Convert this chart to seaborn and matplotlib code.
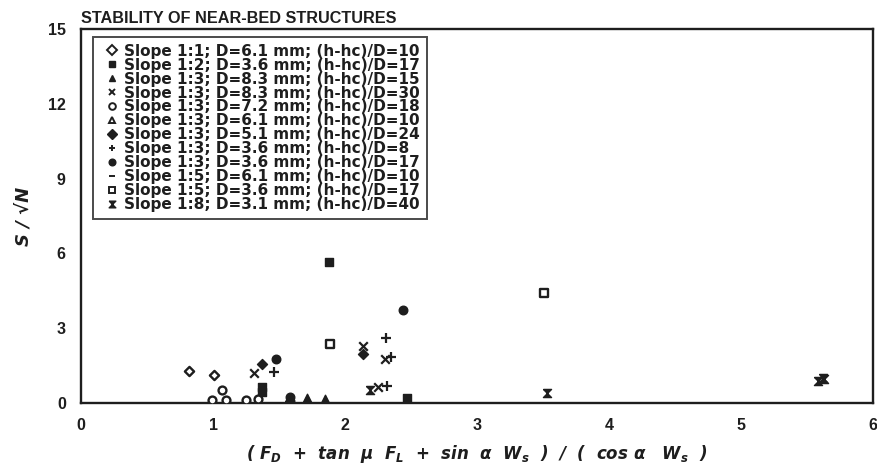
import matplotlib
matplotlib.use("Agg")
import matplotlib.pyplot as plt
import seaborn as sns
import pandas as pd

sns.set_theme(style="white")
plt.rcParams["font.family"] = ["Liberation Sans", "DejaVu Sans"]
plt.rcParams["font.weight"] = "bold"
plt.rcParams["mathtext.fontset"] = "custom"
plt.rcParams["mathtext.it"] = "DejaVu Sans:italic:bold"
plt.rcParams["mathtext.rm"] = "DejaVu Sans:bold"
plt.rcParams["mathtext.bf"] = "DejaVu Sans:bold"

INK = "#1e1e1e"

# Series labels
labels = [
    "Slope 1:1; D=6.1 mm; (h-hc)/D=10",
    "Slope 1:2; D=3.6 mm; (h-hc)/D=17",
    "Slope 1:3; D=8.3 mm; (h-hc)/D=15",
    "Slope 1:3; D=8.3 mm; (h-hc)/D=30",
    "Slope 1:3; D=7.2 mm; (h-hc)/D=18",
    "Slope 1:3; D=6.1 mm; (h-hc)/D=10",
    "Slope 1:3; D=5.1 mm; (h-hc)/D=24",
    "Slope 1:3; D=3.6 mm; (h-hc)/D=8",
    "Slope 1:3; D=3.6 mm; (h-hc)/D=17",
    "Slope 1:5; D=6.1 mm; (h-hc)/D=10",
    "Slope 1:5; D=3.6 mm; (h-hc)/D=17",
    "Slope 1:8; D=3.1 mm; (h-hc)/D=40",
]

# Measured values per series: x = force ratio, y = S / sqrt(N)
x_s11_d61 = [0.82, 1.01]
y_s11_d61 = [1.30, 1.14]
x_s12_d36 = [1.88, 1.37, 1.37, 2.47]
y_s12_d36 = [5.67, 0.45, 0.65, 0.20]
x_s13_d83a = [1.71, 1.85]
y_s13_d83a = [0.19, 0.17]
x_s13_d83b = [1.31, 2.14, 2.30, 2.25]
y_s13_d83b = [1.22, 2.27, 1.76, 0.64]
x_s13_d72 = [1.07, 0.99, 1.10, 1.25, 1.34]
y_s13_d72 = [0.51, 0.11, 0.13, 0.11, 0.15]
x_s13_d61 = [1.58]
y_s13_d61 = [0.08]
x_s13_d51 = [1.37, 2.14]
y_s13_d51 = [1.58, 1.95]
x_s13_d36a = [1.46, 2.31, 2.35, 2.32]
y_s13_d36a = [1.23, 2.62, 1.83, 0.67]
x_s13_d36b = [2.44, 1.48, 1.58, 1.58]
y_s13_d36b = [3.74, 1.75, 0.25, 0.08]
x_s15_d61 = [1.58]
y_s15_d61 = [0.05]
x_s15_d36 = [1.89, 3.51]
y_s15_d36 = [2.37, 4.43]
x_s18_d31 = [2.19, 3.53, 5.58, 5.63, 5.62]
y_s18_d31 = [0.51, 0.41, 0.88, 0.95, 1.00]

xs = [x_s11_d61, x_s12_d36, x_s13_d83a, x_s13_d83b, x_s13_d72, x_s13_d61,
      x_s13_d51, x_s13_d36a, x_s13_d36b, x_s15_d61, x_s15_d36, x_s18_d31]
ys = [y_s11_d61, y_s12_d36, y_s13_d83a, y_s13_d83b, y_s13_d72, y_s13_d61,
      y_s13_d51, y_s13_d36a, y_s13_d36b, y_s15_d61, y_s15_d36, y_s18_d31]

# hourglass-shaped marker for the 1:8 slope
hourglass = [(-1, 1), (1, 1), (-1, -1), (1, -1), (-1, 1)]

# marker, filled?, size
styles = [
    ("D", False, 22),
    ("s", True, 34),
    ("^", True, 38),
    ("x", None, 38),
    ("o", False, 32),
    ("^", False, 32),
    ("D", True, 26),
    ("+", None, 44),
    ("o", True, 38),
    ("_", None, 44),
    ("s", False, 32),
    (hourglass, True, 34),
]

fig = plt.figure(figsize=(8.77, 4.73), dpi=100)
ax = fig.add_axes([0.0924, 0.148, 0.903, 0.7907])

handles = []
for lab, x, y, (m, filled, sz) in zip(labels, xs, ys, styles):
    df = pd.DataFrame({"x": x, "y": y})
    if filled is None:
        kw = dict(color=INK, linewidth=1.6)
    elif filled:
        kw = dict(color=INK, edgecolor=INK, linewidth=1.0)
    else:
        kw = dict(facecolor="white", edgecolor=INK, linewidth=1.7)
    sns.scatterplot(data=df, x="x", y="y", marker=m, s=sz, ax=ax, zorder=3,
                    legend=False, **kw)
    # legend proxy
    if filled is None:
        h = plt.Line2D([], [], linestyle="none", marker=m, color=INK,
                       markersize=4.8, markeredgewidth=1.4)
    elif filled:
        h = plt.Line2D([], [], linestyle="none", marker=m, color=INK,
                       markersize=4.8)
    else:
        h = plt.Line2D([], [], linestyle="none", marker=m, markerfacecolor="white",
                       markeredgecolor=INK, markersize=4.8, markeredgewidth=1.4)
    handles.append(h)

ax.set_xlim(0, 6)
ax.set_ylim(0, 15)
ax.set_xticks([0, 1, 2, 3, 4, 5, 6])
ax.set_yticks([0, 3, 6, 9, 12, 15])
ax.tick_params(direction="in", length=4, width=1, colors=INK,
               labelsize=11.5, pad=11, labelcolor=INK)
for lbl in ax.get_xticklabels() + ax.get_yticklabels():
    lbl.set_fontweight("bold")
for sp in ax.spines.values():
    sp.set_linewidth(1.7)
    sp.set_color(INK)
ax.grid(False)

ax.set_xlabel(r"( $F_D$  +  $tan$  $\mu$  $F_L$  +  $sin$  $\alpha$  $W_s$  )  /  (  $cos$ $\alpha$   $W_s$  )",
              fontsize=12, fontweight="bold", style="italic", labelpad=7,
              color=INK, family=["DejaVu Sans"])
ax.set_ylabel("S / √N", fontsize=13, fontweight="bold", style="italic",
              labelpad=11, color=INK, family=["DejaVu Sans"])
ax.set_title("STABILITY OF NEAR-BED STRUCTURES", loc="left", fontsize=11.7,
             fontweight="bold", pad=4, color=INK, x=0.0)

leg = ax.legend(handles, labels, loc="upper left", bbox_to_anchor=(0.015, 0.979),
                frameon=True, fancybox=False, edgecolor=INK,
                handlelength=1.6, handletextpad=0.0, labelspacing=-0.07,
                borderpad=0.45, borderaxespad=0.0,
                prop={"family": "DejaVu Sans", "weight": "bold", "size": 11})
leg.get_frame().set_linewidth(1.4)
for t in leg.get_texts():
    t.set_color(INK)

fig.savefig("out.png", dpi=100)
